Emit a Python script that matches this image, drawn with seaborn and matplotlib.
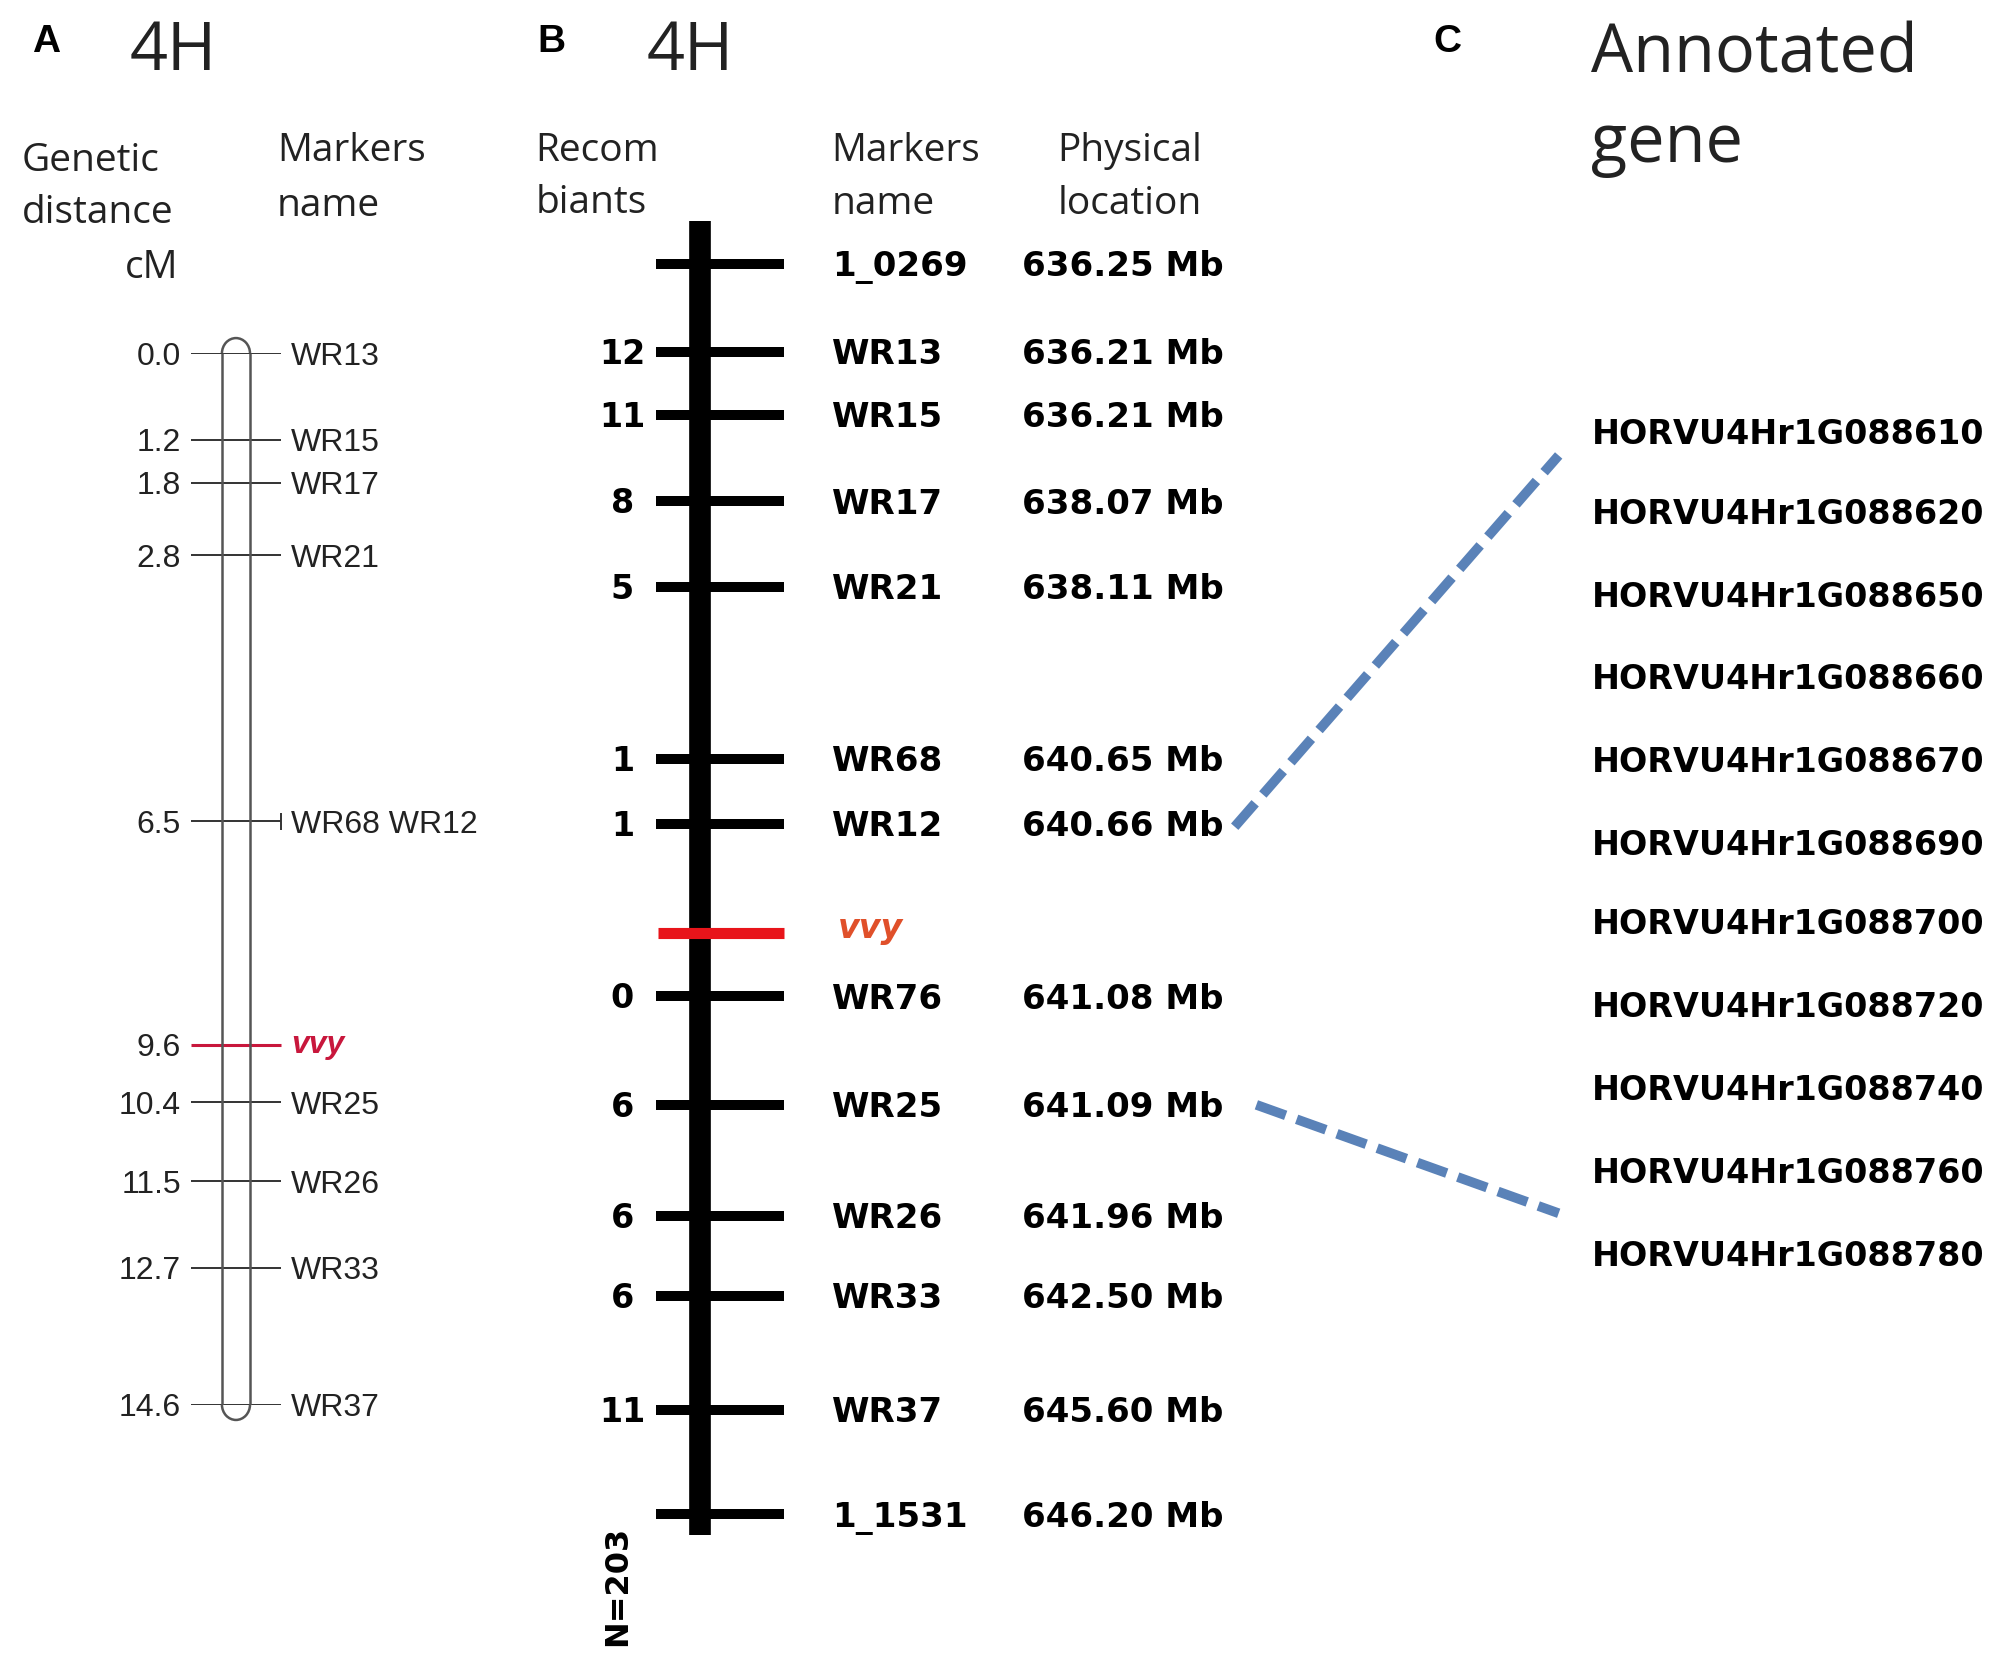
import numpy as np
import pandas as pd
import matplotlib
matplotlib.use("Agg")
import matplotlib.pyplot as plt
import matplotlib.transforms as mtransforms
from matplotlib.patches import Arc
import seaborn as sns

# ---------------- data ----------------
A_CM = [0.0, 1.2, 1.8, 2.8, 6.5, 9.6, 10.4, 11.5, 12.7, 14.6]
A_MARKERS = ["WR13", "WR15", "WR17", "WR21", "WR68 WR12", "vvy",
             "WR25", "WR26", "WR33", "WR37"]

B_MARKERS = ["1_0269", "WR13", "WR15", "WR17", "WR21", "WR68", "WR12", "vvy",
             "WR76", "WR25", "WR26", "WR33", "WR37", "1_1531"]
B_RECOMB = [None, 12, 11, 8, 5, 1, 1, None, 0, 6, 6, 6, 11, None]
B_PHYS = [636.25, 636.21, 636.21, 638.07, 638.11, 640.65, 640.66, None,
          641.08, 641.09, 641.96, 642.50, 645.60, 646.20]
B_N = 203

GENES = ["HORVU4Hr1G088610", "HORVU4Hr1G088620", "HORVU4Hr1G088650",
         "HORVU4Hr1G088660", "HORVU4Hr1G088670", "HORVU4Hr1G088690",
         "HORVU4Hr1G088700", "HORVU4Hr1G088720", "HORVU4Hr1G088740",
         "HORVU4Hr1G088760", "HORVU4Hr1G088780"]

# ---------------- layout (canvas units) ----------------
W, H = 1568, 1309
B_Y = [207, 276, 325, 393, 460, 595, 646, 731, 781, 866, 953, 1016, 1105, 1187]
GENE_Y = [339, 401, 466, 531, 596, 661, 723, 788, 853, 918, 983]
LINK = ["upper", "upper", "lower", "lower"]
LINK_X = [968, 1222, 985, 1222]
LINK_Y = [648, 357, 866, 951]

sns.set_theme(style="white")
plt.rcParams["font.family"] = ["DejaVu Sans"]

fig = plt.figure(figsize=(20, 16.7), dpi=100)
ov = fig.add_axes([0, 0, 1, 1])
ov.set_xlim(0, W)
ov.set_ylim(H, 0)
ov.axis("off")

axA = fig.add_axes([0, 1 - 1101 / H, 1, (1101 - 277) / H])
axA.set_facecolor("none")
axA.set_xlim(0, W)
axA.set_ylim(14.6, 0)
axA.axis("off")


def ctext(ax, x, y, s, size, cap=0.72, **kw):
    tr = mtransforms.offset_copy(ax.transData, fig=fig, x=0,
                                 y=-cap * size / 2, units="points")
    ax.text(x, y, s, fontsize=size, va="baseline", transform=tr, **kw)


HEAD = dict(family="Open Sans", color="#222222", va="baseline")
BOLD = dict(family="DejaVu Sans", weight="bold", color="black")
ARIAL = dict(family="Liberation Sans", color="#222222")

# panel letters and titles
for x, y, s in [(25, 41, "A"), (421, 41, "B"), (1124, 41, "C")]:
    ov.text(x, y, s, fontsize=28, family="Liberation Sans", weight="bold",
            va="baseline", color="black")
ov.text(102, 55, "4H", fontsize=48, **HEAD)
ov.text(507, 55, "4H", fontsize=48, **HEAD)
ov.text(1247, 57, "Annotated", fontsize=48, **HEAD)
ov.text(1247, 127, "gene", fontsize=48, **HEAD)

# headers
ov.text(17, 134, "Genetic", fontsize=28, **HEAD)
ov.text(17, 175, "distance", fontsize=28, **HEAD)
ov.text(140, 218, "cM", fontsize=28, ha="right", **HEAD)
ov.text(217, 126, "Markers", fontsize=28, **HEAD)
ov.text(217, 169, "name", fontsize=28, **HEAD)
ov.text(420, 126, "Recom", fontsize=28, **HEAD)
ov.text(420, 167, "biants", fontsize=28, **HEAD)
ov.text(652, 126, "Markers", fontsize=28, **HEAD)
ov.text(652, 168, "name", fontsize=28, **HEAD)
ov.text(829, 126, "Physical", fontsize=28, **HEAD)
ov.text(829, 168, "location", fontsize=28, **HEAD)

# ---------------- panel A ----------------
crimson = "#c8173c"
normal_cm = [c for c, m in zip(A_CM, A_MARKERS) if m != "vvy"]
vvy_cm = [c for c, m in zip(A_CM, A_MARKERS) if m == "vvy"]
axA.hlines(normal_cm, 150, 220, color="#333333", lw=1.4)
axA.hlines(vvy_cm, 150, 220, color=crimson, lw=2.2)
axA.vlines([174, 196], A_CM[0], A_CM[-1], color="#555555", lw=1.8)
capH = 24 * (A_CM[-1] - A_CM[0]) / (1101 - 277)
axA.add_patch(Arc((185, A_CM[0]), 22, capH, theta1=180, theta2=360,
                  color="#555555", lw=1.8, clip_on=False))
axA.add_patch(Arc((185, A_CM[-1]), 22, capH, theta1=0, theta2=180,
                  color="#555555", lw=1.8, clip_on=False))
for c, m in zip(A_CM, A_MARKERS):
    if " " in m:
        axA.vlines(220, c - 0.12, c + 0.12, color="#333333", lw=1.4)
    ctext(axA, 142, c, f"{c:.1f}", 23, ha="right", **ARIAL)
    if m == "vvy":
        ctext(axA, 228, c, m, 23, cap=0.52, family="Liberation Sans",
              weight="bold", style="italic", color=crimson)
    else:
        ctext(axA, 228, c, m, 23, **ARIAL)

# ---------------- panel B ----------------
ov.vlines(548.5, 173, 1203, color="black", lw=15.6)
norm_y = [y for y, m in zip(B_Y, B_MARKERS) if m != "vvy"]
vvy_y = [y for y, m in zip(B_Y, B_MARKERS) if m == "vvy"]
ov.hlines(norm_y, 514, 615, color="black", lw=7.2)
ov.hlines(vvy_y, 516, 615, color="#e8141a", lw=8)
for y, m, r, p in zip(B_Y, B_MARKERS, B_RECOMB, B_PHYS):
    if m == "vvy":
        ov.text(657, 735, m, fontsize=24, family="DejaVu Sans", weight="bold",
                style="italic", color="#e0502a", va="baseline")
        continue
    if r is not None:
        ctext(ov, 488, y, str(r), 24, ha="center", **BOLD)
    ctext(ov, 652, y, m, 24.5, ha="left", **BOLD)
    if p is not None:
        ctext(ov, 801, y, f"{p:.2f} Mb", 24.5, ha="left", **BOLD)
ov.text(484, 1243, f"N={B_N}", fontsize=23, rotation=90, ha="center",
        va="center", **BOLD)

# ---------------- panel C ----------------
for y, g in zip(GENE_Y, GENES):
    ctext(ov, 1248, y, g, 24, ha="left", **BOLD)

links = pd.DataFrame({"link": LINK, "x": LINK_X, "y": LINK_Y})
sns.lineplot(data=links, x="x", y="y", units="link", estimator=None,
             sort=False, ax=ov, color="#5a82b8", lw=7,
             linestyle=(0, (3.2, 1.2)), legend=False)
ov.set_xlim(0, W)
ov.set_ylim(H, 0)
ov.axis("off")

fig.savefig("out.png", dpi=100, facecolor="white")
